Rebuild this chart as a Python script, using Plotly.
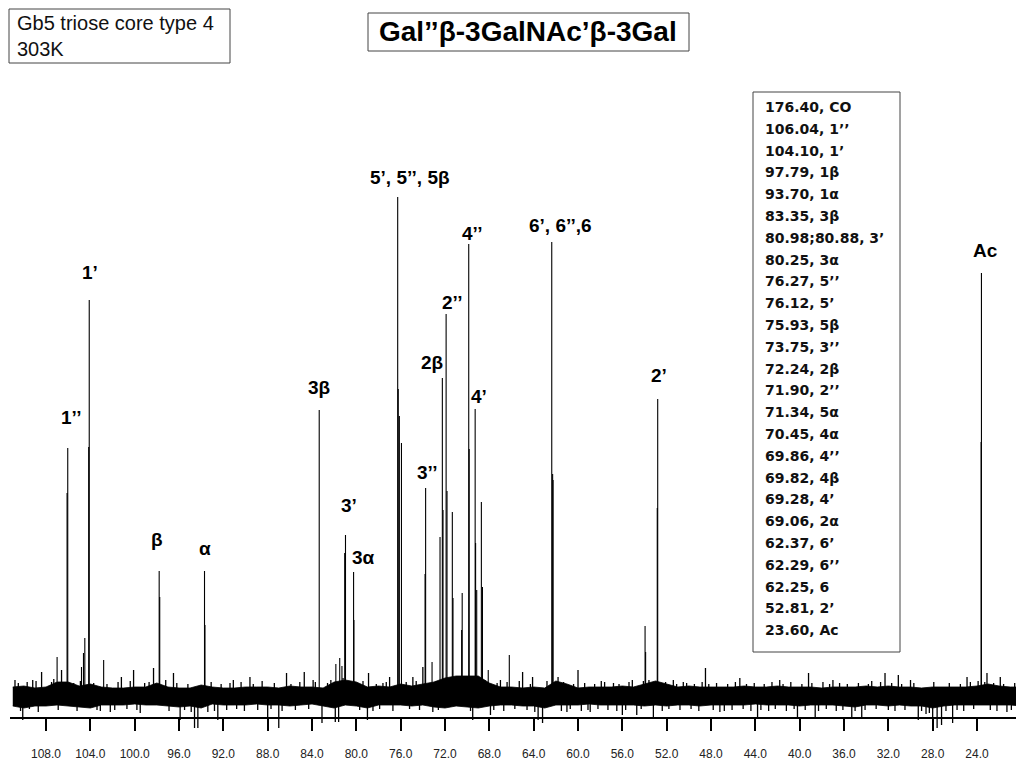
import plotly.graph_objects as go

# 13C NMR, Gb5 triose core type 4, 303K
# intensity unit: ~1 px above the noise baseline

peak_ppm = [107.00, 106.04, 106.10, 104.80, 104.62, 104.50, 104.10, 104.15, 102.80,
            97.79, 97.74, 93.70, 93.66, 83.35, 81.85, 81.50, 81.30, 81.05, 80.98,
            80.25, 80.22, 76.27, 76.22, 76.12, 75.93, 73.80, 73.75, 73.17,
            72.45, 72.24, 72.18, 71.90, 71.82, 71.34, 71.28, 70.50, 70.45,
            69.86, 69.82, 69.28, 69.24, 69.14, 68.72, 68.62, 68.10, 66.20,
            62.37, 62.29, 62.25, 53.95, 53.90, 52.85, 52.81, 23.63, 23.60]
peak_int = [39, 248, 203, 29, 43, 58, 396, 249, 36,
            125, 99, 125, 71, 286, 32, 38, 30, 143, 161,
            124, 76, 499, 307, 280, 253, 122, 208, 34,
            159, 318, 186, 382, 205, 184, 98, 66, 103,
            452, 247, 287, 153, 106, 194, 109, 26, 41,
            454, 222, 216, 70, 44, 188, 297, 254, 423]

# noise band, read every 1 ppm from 111 down to 20
noise_ppm = list(range(111, 19, -1))
noise_upper = [9, 10, 8, 9, 14, 14, 10, 12, 9, 8, 8, 9, 9, 13, 9, 8,
               8, 11, 9, 8, 8, 9, 9, 9, 8, 10, 9, 9, 8, 14, 16, 14,
               9, 10, 9, 12, 10, 12, 14, 18, 20, 20, 20, 13, 9, 9, 8, 9,
               8, 15, 12, 8, 9, 9, 9, 10, 9, 12, 15, 12, 9, 10, 9, 9,
               9, 9, 10, 9, 9, 10, 9, 9, 9, 8, 9, 9, 9, 10, 9, 10,
               9, 9, 8, 9, 9, 9, 9, 10, 12, 10, 9, 9]
noise_lower = [-10, -12, -10, -10, -9, -10, -11, -12, -9, -9, -9, -8, -9, -9, -10, -11,
               -10, -12, -8, -9, -9, -9, -8, -9, -9, -10, -9, -8, -10, -12, -9, -10,
               -12, -9, -9, -9, -10, -9, -11, -12, -10, -11, -12, -10, -9, -9, -10, -10,
               -12, -9, -9, -9, -8, -9, -9, -9, -9, -10, -9, -10, -9, -9, -10, -9,
               -9, -9, -9, -8, -9, -9, -9, -10, -9, -9, -9, -10, -11, -9, -9, -10,
               -9, -10, -10, -12, -10, -9, -9, -9, -9, -9, -9, -10]

# isolated noise spikes sticking out of the band
spike_ppm = [110.8, 110.1, 109.2, 108.4, 106.6, 103.4, 102.2, 101.2, 100.1, 99.5,
             98.3, 96.5, 95.9, 94.6, 94.3, 93.4, 92.5, 91.1, 89.6, 88.0,
             87.0, 86.3, 84.7, 83.9, 83.1, 81.9, 81.6, 79.0, 78.9, 77.6,
             77.0, 74.9, 74.0, 73.1, 69.5, 67.9, 67.0, 65.0, 64.1, 63.6,
             63.2, 61.8, 61.0, 60.0, 58.9, 57.6, 56.0, 55.1, 54.7, 53.2,
             51.4, 50.2, 48.5, 47.2, 45.4, 43.8, 41.8, 40.2, 39.2, 38.6,
             37.0, 35.3, 34.4, 32.3, 31.1, 30.0, 29.3, 28.0, 27.6, 27.2,
             26.2, 24.9, 23.1, 21.9, 21.3]
spike_int = [16, -24, 16, 24, 26, -14, -16, 19, 26, -17,
             28, 23, -24, -32, -32, -16, -24, 16, 19, -24,
             -32, 23, 24, 16, -27, -26, -26, -24, 23, 13,
             19, 19, 29, -16, -24, -19, 16, 24, 19, -24,
             -27, 19, -16, 26, -16, 14, -19, 16, -19, -22,
             16, 13, 28, -16, 18, -21, 16, -22, 23, -22,
             16, -22, -22, 23, 21, 16, -24, -34, -32, -29,
             -27, 19, 23, 19, -16]

# smaller fuzz at the band edges
fuzz_ppm = [110.5, 110.3, 109.7, 109.5, 108.9, 108.7, 107.5, 107.3, 106.9, 105.5, 105.2, 104.9,
            103.7, 103.1, 102.5, 101.8, 101.5, 100.7, 100.4, 99.8, 99.1, 98.7, 97.2, 96.9,
            96.2, 95.5, 95.2, 94.9, 93.1, 92.8, 92.2, 91.7, 91.4, 90.8, 90.4, 90.1,
            89.3, 88.9, 88.5, 87.7, 87.4, 86.7, 85.9, 85.5, 85.1, 84.3, 83.7, 82.6,
            82.3, 81.2, 79.7, 79.4, 78.5, 78.2, 77.9, 77.3, 76.7, 75.5, 75.2, 74.6,
            74.3, 72.8, 72.6, 70.9, 70.2, 69.7, 68.4, 67.6, 67.3, 66.7, 66.4, 65.7,
            65.3, 64.6, 64.3, 63.9, 62.8, 61.5, 61.3, 60.7, 60.4, 59.7, 59.4, 59.1,
            58.5, 58.2, 57.9, 57.3, 56.8, 56.5, 56.3, 55.7, 55.4, 54.3, 54.1, 53.6,
            52.4, 52.1, 51.8, 51.1, 50.8, 50.5, 49.8, 49.5, 49.1, 48.8, 48.2, 47.8,
            47.5, 46.8, 46.5, 46.1, 45.8, 45.1, 44.8, 44.4, 44.1, 43.5, 43.2, 42.8,
            42.5, 42.2, 41.5, 41.2, 40.8, 40.5, 39.8, 39.5, 38.9, 38.3, 37.9, 37.6,
            37.3, 36.7, 36.4, 36.1, 35.7, 35.0, 34.7, 34.1, 33.8, 33.5, 33.1, 32.7,
            32.0, 31.7, 31.4, 30.8, 30.5, 29.7, 29.0, 28.6, 28.3, 27.9, 26.8, 26.5,
            25.8, 25.5, 25.2, 24.6, 24.3, 23.9, 23.3, 22.8, 22.5, 22.2, 21.6, 20.9,
            20.6, 20.3]
fuzz_int = [13, -15, 14, -13, 15, -16, 14, 17, -14, 13, -15, 15,
            13, -15, 12, -14, 14, -13, 15, -14, 13, 14, 16, -15,
            13, -14, 12, -16, 14, -15, 12, -14, 13, -13, 14, -15,
            12, -14, 15, -13, 13, -15, 12, -14, 14, -13, 14, 13,
            16, 18, -14, 15, -15, 12, -13, 14, -15, 14, -13, 15,
            -14, 15, -14, 18, 17, -15, 16, -14, 13, -15, 14, -13,
            15, -14, 12, -16, 15, -15, 14, -13, 12, -15, 13, -14,
            12, -13, 15, -14, 13, -15, 12, -14, 14, -13, 15, 16,
            -15, 14, -13, 12, -14, 14, -13, 12, -15, 14, 12, -14,
            13, -15, 12, -14, 14, -13, 12, -15, 13, -14, 12, -15,
            14, -13, 12, -15, 14, -13, 12, -14, 13, -15, 14, -13,
            12, -15, 13, -14, 12, -15, 13, -14, 12, 15, -13, 14,
            -14, 13, -15, 12, -14, 13, -15, -18, -17, 14, -15, 13,
            -14, 12, -15, 14, -13, 15, 14, -14, 13, -15, 12, -14,
            13, -15]

peak_labels = ["1’’", "1’", "β", "α", "3β", "3’", "3α", "5’, 5’’, 5β",
               "4’’", "2’’", "2β", "3’’", "4’", "6’, 6’’,6", "2’", "Ac"]
label_ppm = [105.74, 104.03, 97.98, 93.65, 83.37, 80.66, 79.40, 75.16,
             69.56, 71.37, 73.17, 73.62, 68.93, 61.62, 52.69, 23.19]
label_int = [279, 424, 157, 148, 309, 191, 139, 519,
             463, 394, 334, 224, 300, 471, 321, 446]

shift_list = ["176.40, CO", "106.04, 1’’", "104.10, 1’", "97.79, 1β", "93.70, 1α",
              "83.35, 3β", "80.98;80.88, 3’", "80.25, 3α", "76.27, 5’’", "76.12, 5’",
              "75.93, 5β", "73.75, 3’’", "72.24, 2β", "71.90, 2’’", "71.34, 5α",
              "70.45, 4α", "69.86, 4’’", "69.82, 4β", "69.28, 4’", "69.06, 2α",
              "62.37, 6’", "62.29, 6’’", "62.25, 6", "52.81, 2’", "23.60, Ac"]

FONT = "Liberation Sans, Arial, sans-serif"
WIDE = "DejaVu Sans, Verdana, sans-serif"
OFF = 8          # page body margin
W, H = 1024 - OFF, 768 - OFF
ML = 2


def px(x):
    return (x - OFF - ML) / (W - ML)


def py(y):
    return (H - (y - OFF)) / H


def sticks(xs, ys):
    sx, sy = [], []
    for x, y in zip(xs, ys):
        sx += [x, x, None]
        sy += [0, y, None]
    return sx, sy


fig = go.Figure()

band_x = noise_ppm + noise_ppm[::-1]
band_y = noise_upper + noise_lower[::-1]
fig.add_trace(go.Scatter(x=band_x, y=band_y, fill="toself", fillcolor="black",
                         mode="lines", line=dict(color="black", width=0.8),
                         hoverinfo="skip", showlegend=False))

sx, sy = sticks(fuzz_ppm + spike_ppm, fuzz_int + spike_int)
fig.add_trace(go.Scatter(x=sx, y=sy, mode="lines", line=dict(color="black", width=1.3),
                         hoverinfo="skip", showlegend=False))

sx, sy = sticks(peak_ppm, peak_int)
fig.add_trace(go.Scatter(x=sx, y=sy, mode="lines", line=dict(color="black", width=1.1),
                         hoverinfo="skip", showlegend=False))

annotations = []
for t, x, y in zip(peak_labels, label_ppm, label_int):
    annotations.append(dict(x=x, y=y, xref="x", yref="y", text="<b>" + t + "</b>",
                            showarrow=False, font=dict(family=FONT, size=19, color="black")))

# top-left info box
annotations.append(dict(x=px(15), y=py(23), xref="paper", yref="paper", xanchor="left",
                        yanchor="middle", text="Gb5 triose core type 4", showarrow=False,
                        font=dict(family=FONT, size=20, color="#111")))
annotations.append(dict(x=px(15), y=py(49), xref="paper", yref="paper", xanchor="left",
                        yanchor="middle", text="303K", showarrow=False,
                        font=dict(family=FONT, size=20, color="#111")))
# title box
annotations.append(dict(x=px(528), y=py(32), xref="paper", yref="paper", xanchor="center",
                        yanchor="middle", text="<b>Gal’’β-3GalNAc’β-3Gal</b>", showarrow=False,
                        font=dict(family=FONT, size=28, color="black")))
# shift list
for i, t in enumerate(shift_list):
    annotations.append(dict(x=px(763), y=py(107 + i * 21.8), xref="paper", yref="paper",
                            xanchor="left", yanchor="middle", text="<b>" + t + "</b>",
                            showarrow=False, font=dict(family=WIDE, size=14, color="#111")))

box_line = dict(color="#444", width=1)
shapes = [
    dict(type="rect", xref="paper", yref="paper", x0=px(9), x1=px(230), y0=py(9), y1=py(63), line=box_line),
    dict(type="rect", xref="paper", yref="paper", x0=px(368), x1=px(689), y0=py(13), y1=py(51), line=box_line),
    dict(type="rect", xref="paper", yref="paper", x0=px(753), x1=px(900), y0=py(92), y1=py(652), line=box_line),
]

fig.update_layout(
    width=W, height=H,
    margin=dict(l=ML, r=0, t=0, b=0),
    paper_bgcolor="white", plot_bgcolor="white",
    showlegend=False,
    annotations=annotations,
    shapes=shapes,
    xaxis=dict(range=[111.25, 19.76], anchor="free", position=py(718),
               showline=True, linecolor="black", linewidth=1.5,
               ticks="outside", ticklen=12, tickwidth=1.5, tickcolor="black",
               tick0=0, dtick=4, tickformat=".1f", ticklabelstandoff=13,
               tickfont=dict(family=FONT, size=12, color="#222"),
               showgrid=False, zeroline=False, automargin=False),
    yaxis=dict(range=[-72, 696 - OFF], visible=False, showgrid=False, zeroline=False),
)

fig.write_html("out.html")
